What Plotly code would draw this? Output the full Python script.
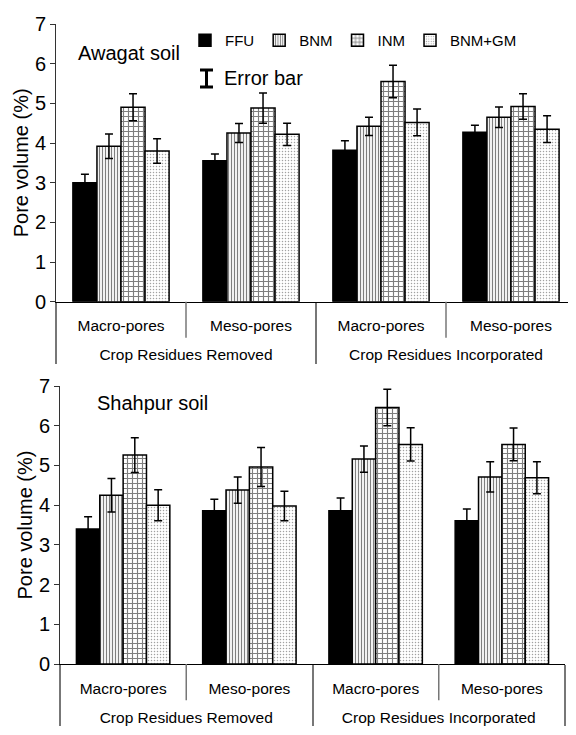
import plotly.graph_objects as go

# ---------------- data ----------------
treatments = ["FFU", "BNM", "INM", "BNM+GM"]
residue_groups = ["Crop Residues Removed", "Crop Residues Removed",
                  "Crop Residues Incorporated", "Crop Residues Incorporated"]
pore_classes = ["Macro-pores", "Meso-pores", "Macro-pores", "Meso-pores"]

# Awagat soil (top panel)
awagat_ffu = [3.00, 3.55, 3.82, 4.27]
awagat_bnm = [3.92, 4.25, 4.42, 4.65]
awagat_inm = [4.90, 4.88, 5.55, 4.92]
awagat_bnmgm = [3.80, 4.22, 4.52, 4.35]
awagat_ffu_err = [0.21, 0.17, 0.24, 0.18]
awagat_bnm_err = [0.31, 0.24, 0.23, 0.26]
awagat_inm_err = [0.34, 0.38, 0.41, 0.32]
awagat_bnmgm_err = [0.31, 0.28, 0.34, 0.34]

# Shahpur soil (bottom panel)
shahpur_ffu = [3.40, 3.86, 3.86, 3.61]
shahpur_bnm = [4.25, 4.38, 5.16, 4.71]
shahpur_inm = [5.26, 4.96, 6.46, 5.53]
shahpur_bnmgm = [4.00, 3.98, 5.53, 4.69]
shahpur_ffu_err = [0.31, 0.29, 0.32, 0.29]
shahpur_bnm_err = [0.42, 0.33, 0.33, 0.38]
shahpur_inm_err = [0.44, 0.49, 0.46, 0.41]
shahpur_bnmgm_err = [0.39, 0.37, 0.42, 0.40]

y_ticks = [0, 1, 2, 3, 4, 5, 6, 7]

# ---------------- styling ----------------
PAGE_OFF = 8            # default body margin of the html page
W, H = 576 - PAGE_OFF, 735 - PAGE_OFF
REG = "Liberation Sans, Arial, sans-serif"

styles = {
    "FFU": dict(color="black", pattern=dict(shape="")),
    "BNM": dict(color="white", pattern=dict(shape="|", size=3, solidity=0.4,
                                             fgcolor="black", bgcolor="white", fillmode="overlay")),
    "INM": dict(color="white", pattern=dict(shape="+", size=5, solidity=0.4,
                                             fgcolor="black", bgcolor="white", fillmode="overlay")),
    "BNM+GM": dict(color="white", pattern=dict(shape=".", size=3, solidity=0.2,
                                                fgcolor="#444", bgcolor="white", fillmode="overlay")),
}

# extra spacing between the two label levels (line break before the outer label)
group_labels = ["<br>" + g for g in residue_groups]

panels = [
    ("x", "y", [awagat_ffu, awagat_bnm, awagat_inm, awagat_bnmgm],
     [awagat_ffu_err, awagat_bnm_err, awagat_inm_err, awagat_bnmgm_err], True),
    ("x2", "y2", [shahpur_ffu, shahpur_bnm, shahpur_inm, shahpur_bnmgm],
     [shahpur_ffu_err, shahpur_bnm_err, shahpur_inm_err, shahpur_bnmgm_err], False),
]

fig = go.Figure()
for xa, ya, vals, errs, show in panels:
    for name, v, e in zip(treatments, vals, errs):
        st = styles[name]
        fig.add_trace(go.Bar(
            x=[group_labels, pore_classes], y=v, name=name,
            xaxis=xa, yaxis=ya, showlegend=show, legendgroup=name,
            marker=dict(color=st["color"], pattern=st["pattern"],
                        line=dict(color="black", width=1.5)),
            error_y=dict(type="data", array=e, visible=True,
                         color="black", thickness=1.5, width=4),
        ))

def px_x(p):
    return (p - PAGE_OFF) / W

def px_y(p):
    return 1 - (p - PAGE_OFF) / H

yaxis_common = dict(
    range=[0, 7], tickvals=y_ticks, ticks="outside", ticklen=5, tickcolor="#333",
    showline=True, linecolor="#333", linewidth=1, showgrid=False, zeroline=False,
    tickfont=dict(family=REG, size=20, color="black"),
    title=dict(text="Pore volume (%)", font=dict(family=REG, size=20, color="black"), standoff=0),
)
xaxis_common = dict(
    type="multicategory", showline=True, linecolor="black", linewidth=1,
    showgrid=False, ticks="", showdividers=True, dividercolor="#777", dividerwidth=1.5,
    tickfont=dict(family=REG, size=15.5, color="black"), ticklabelstandoff=10,
)

fig.update_layout(
    width=W, height=H, margin=dict(l=0, r=0, t=0, b=0, autoexpand=False),
    paper_bgcolor="white", plot_bgcolor="white",
    barmode="group", bargap=0.26, bargroupgap=0,
    xaxis=dict(domain=[px_x(56), 1.0], anchor="y", **xaxis_common),
    yaxis=dict(domain=[px_y(301.7), px_y(24)], anchor="x", **yaxis_common),
    xaxis2=dict(domain=[px_x(60), px_x(565)], anchor="y2", **xaxis_common),
    yaxis2=dict(domain=[px_y(664), px_y(386)], anchor="x2", **yaxis_common),
    legend=dict(orientation="h", x=px_x(185), y=px_y(24), xanchor="left", yanchor="top",
                font=dict(family=REG, size=15, color="black"),
                itemwidth=30, traceorder="normal", bgcolor="rgba(0,0,0,0)"),
    showlegend=True,
)

# short dividers between pore classes
for xr, yr in [("x domain", "y domain"), ("x2 domain", "y2 domain")]:
    for xd in (0.25, 0.75):
        fig.add_shape(type="line", xref=xr, yref=yr, x0=xd, x1=xd, y0=0, y1=-0.13,
                      line=dict(color="#777", width=1.5))

# error bar key
fig.add_shape(type="path", xref="paper", yref="paper",
              path=(f"M {px_x(200)},{px_y(70)} L {px_x(213)},{px_y(70)} "
                    f"M {px_x(206.5)},{px_y(70)} L {px_x(206.5)},{px_y(87)} "
                    f"M {px_x(200)},{px_y(87)} L {px_x(213)},{px_y(87)}"),
              line=dict(color="black", width=3))
fig.add_annotation(text="Error bar", xref="paper", yref="paper", x=px_x(222), y=px_y(78),
                   xanchor="left", yanchor="middle", showarrow=False,
                   font=dict(family=REG, size=20, color="black"))

# soil labels
fig.add_annotation(text="Awagat soil", xref="paper", yref="paper", x=px_x(76), y=px_y(53),
                   xanchor="left", yanchor="middle", showarrow=False,
                   font=dict(family=REG, size=20, color="black"))
fig.add_annotation(text="Shahpur soil", xref="paper", yref="paper", x=px_x(95), y=px_y(403),
                   xanchor="left", yanchor="middle", showarrow=False,
                   font=dict(family=REG, size=20, color="black"))

fig.write_html("out.html")
